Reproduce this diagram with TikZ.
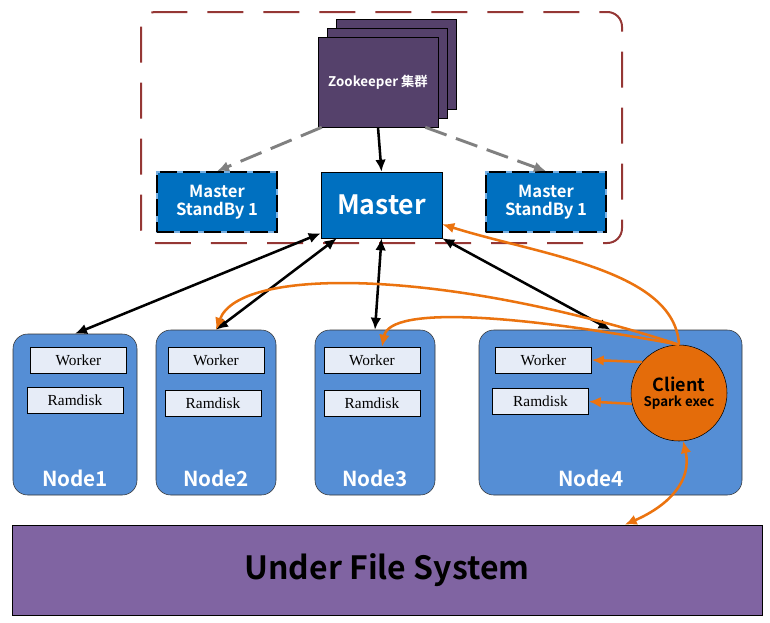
\documentclass[tikz,border=0pt]{standalone}
\usepackage{fontspec}
\setmainfont{Liberation Serif}
\newfontfamily\labelfont{Noto Sans CJK SC Bold}
\usetikzlibrary{arrows.meta,calc}
\definecolor{zkpurple}{RGB}{85,65,107}
\definecolor{masterblue}{RGB}{0,112,192}
\definecolor{standbyline}{RGB}{120,175,225}
\definecolor{nodeblue}{RGB}{85,142,213}
\definecolor{boxgray}{RGB}{230,236,247}
\definecolor{clientorange}{RGB}{228,108,10}
\definecolor{arroworange}{RGB}{235,115,15}
\definecolor{ufspurple}{RGB}{128,100,162}
\definecolor{hared}{RGB}{149,55,53}
\begin{document}
\begin{tikzpicture}[x=0.75pt,y=-0.75pt,
    zkbox/.style={draw=black,fill=zkpurple,minimum width=90pt,minimum height=67.5pt,inner sep=0pt},
    masterbox/.style={draw=black,fill=masterblue,text=white,inner sep=0pt,align=center,font=\labelfont},
    standbybox/.style={masterbox,draw=standbyline,line width=1.2pt,minimum width=90pt,minimum height=45pt,
        postaction={draw=black,line width=1.2pt,dash pattern=on 13pt off 4.5pt},
        font=\labelfont\fontsize{12.5}{13.5}\selectfont},
    hostbox/.style={draw=black!80,fill=nodeblue,rounded corners=11pt,minimum width=90pt,minimum height=123.75pt,inner sep=0pt},
    procbox/.style={draw=black,fill=boxgray,minimum width=72pt,minimum height=19.5pt,inner sep=0pt,font=\fontsize{11.5}{13}\selectfont},
    hostlabel/.style={text=white,font=\labelfont\fontsize{15.5}{18}\selectfont},
    duplex/.style={{Latex[length=9pt,width=8pt]}-{Latex[length=9pt,width=8pt]},line width=1.9pt},
    zklink/.style={-{Latex[length=9pt,width=8pt]},draw=gray,line width=2.2pt,dash pattern=on 17pt off 7.5pt},
    orangelink/.style={-{Latex[length=9pt,width=8pt]},draw=arroworange,line width=1.9pt}]
                    \useasboundingbox (0,0) rectangle (770,622);
                    \draw[hared,line width=1.5pt,dash pattern=on 27pt off 15pt,rounded corners=11pt] (141,12) rectangle (622,243);
                    \node[zkbox] (zk3) at (396,64) {};
                    \node[zkbox] (zk2) at (387,73) {};
                    \node[zkbox,text=white,font=\labelfont\fontsize{10}{12}\selectfont] (zk) at (378,82) {Zookeeper 集群};
                    \node[masterbox,minimum width=90.75pt,minimum height=49.5pt,font=\labelfont\fontsize{20}{24}\selectfont] (master) at (381.5,205) {Master};
                    \node[standbybox] (standbyL) at (217,202) {Master\\StandBy 1};
                    \node[standbybox] (standbyR) at (546,202) {Master\\StandBy 1};
                    \draw[zklink] ($(zk.south west)+(4,0)$) -- (standbyL.north);
                    \draw[zklink] ($(zk.south east)+(-13,0)$) -- (standbyR.north);
                    \draw[-{Latex[length=9pt,width=8pt]},line width=1.9pt] (zk.south) -- (master.north);
                    \node[hostbox,minimum width=93pt,minimum height=120.75pt] (node1) at (75,414.5) {};
                    \node[hostbox] (node2) at (216,412.5) {};
                    \node[hostbox] (node3) at (375,412.5) {};
                    \node[hostbox,minimum width=197.25pt] (node4) at (610.5,412.5) {};
                    \node[procbox] (w1) at (78.5,360) {Worker};
                    \node[procbox] (r1) at (75,400.5) {Ramdisk};
                    \node[procbox] (w2) at (216,360) {Worker};
                    \node[procbox] (r2) at (213,403.5) {Ramdisk};
                    \node[procbox] (w3) at (372,360) {Worker};
                    \node[procbox] (r3) at (372,403.5) {Ramdisk};
                    \node[procbox] (w4) at (543.5,360) {Worker};
                    \node[procbox] (r4) at (540.5,401.5) {Ramdisk};
                    \node[hostlabel] (label1) at (75,478) {Node1};
                    \node[hostlabel] (label2) at (216,478) {Node2};
                    \node[hostlabel] (label3) at (375,478) {Node3};
                    \node[hostlabel] (label4) at (591,478) {Node4};
                    \node[circle,draw=black,fill=clientorange,minimum size=72pt,inner sep=0pt,align=center] (client) at (679,393)
                        {{\labelfont\fontsize{13.5}{16}\selectfont Client}\\[-1pt]{\labelfont\fontsize{10}{12}\selectfont Spark exec}};
                    \node[draw=black,fill=ufspurple,minimum width=562.5pt,minimum height=67.5pt,inner sep=0pt,
                        font=\labelfont\fontsize{24}{28}\selectfont] (ufs) at (387,570) {Under File System};
                    \draw[duplex] ($(master.south west)+(0,-5)$) -- (node1.north);
                    \draw[duplex] ($(master.south west)+(16,0)$) -- (node2.north);
                    \draw[duplex] (master.south) -- (node3.north);
                    \draw[duplex] (master.south east) -- (node4.north);
                    \draw[orangelink] (client.north) .. controls (675,270) and (540,255) .. ($(master.south east)+(0,-14)$);
                    \draw[orangelink] (client.north) .. controls (450,270) and (240,265) .. (node2.north);
                    \draw[orangelink] (client.north) .. controls (520,315) and (390,305) .. ($(w3.north)+(10,0)$);
                    \draw[orangelink] (client.140) -- (w4.east);
                    \draw[orangelink] (client.193) -- (r4.east);
                    \draw[orangelink,{Latex[length=9pt,width=8pt]}-{Latex[length=9pt,width=8pt]}] (client.-85) .. controls (692,480) and (670,505) .. ($(ufs.north west)+(613,0)$);
                \end{tikzpicture}
\end{document}
